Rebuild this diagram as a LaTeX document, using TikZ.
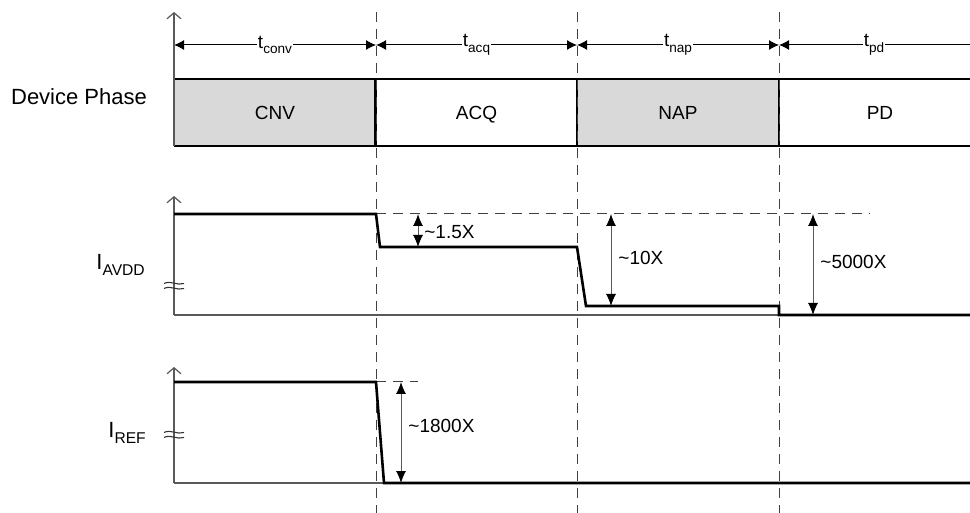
\documentclass[tikz,border=0pt]{standalone}
\usepackage{fontspec}
\setmainfont{Liberation Sans}
\usetikzlibrary{arrows.meta, positioning}

\newcommand{\lowidx}[2][6.8]{\raisebox{-0.55ex}{\fontsize{#1}{8}\selectfont #2}}

\begin{document}
\begin{tikzpicture}[
    x=0.5pt, y=-0.5pt,
    phase/.style={rectangle, minimum width=101pt, minimum height=33.5pt, inner sep=0pt, outer sep=0pt, text height=7pt, text depth=0pt, font=\fontsize{9.5}{11}\selectfont},
    gphase/.style={phase, fill=black!15},
    axis/.style={draw=black!65, line width=0.6pt},
    yaxis/.style={axis, -{Straight Barb[length=3pt, width=7pt]}},
    marker/.style={draw=black!75, line width=0.5pt, dash pattern=on 5pt off 3.5pt},
    span/.style={line width=0.5pt, {Latex[length=5pt, width=5pt]}-{Latex[length=5pt, width=5pt]}},
    ratio/.style={draw=black!65, line width=0.5pt, {Latex[length=6pt, width=5pt, black]}-{Latex[length=6pt, width=5pt, black]}},
    sig/.style={line width=1.3pt},
    tlabel/.style={fill=white, inner sep=0.5pt, font=\fontsize{9.5}{11}\selectfont},
    rlabel/.style={anchor=west, inner sep=0pt, font=\fontsize{9.5}{11}\selectfont},
    ilabel/.style={anchor=west, inner sep=0pt, font=\fontsize{11}{13}\selectfont}
]
    \clip (0,0) rectangle (970,513);

    % Device phases
    \node[gphase] (cnv) at (275,112.5) {CNV};
    \node[phase] (acq) at (476.5,112.5) {ACQ};
    \node[gphase] (nap) at (678,112.5) {NAP};
    \node[phase] (pd) at (880,112.5) {PD};
    \node[font=\fontsize{11}{13}\selectfont] (devphase) at (79,97) {Device Phase};

    \draw[sig] (cnv.north west) -- (pd.north east);
    \draw[sig] (cnv.south west) -- (pd.south east);
    \draw[sig] (acq.north west) -- (acq.south west);
    \draw[sig] (nap.north west) -- (nap.south west);
    \draw[sig] (pd.north west) -- (pd.south west);

    % Phase boundaries
    \foreach \x in {376,577,779}
        \draw[marker] (\x,12) -- (\x,513);

    % Durations
    \coordinate (s0) at (174,45);
    \coordinate (s1) at (376,45);
    \coordinate (s2) at (577,45);
    \coordinate (s3) at (779,45);
    \coordinate (s4) at (990,45);
    \draw[span] (s0) -- node[tlabel] (tconv) {t\lowidx{conv}} (s1);
    \draw[span] (s1) -- node[tlabel] (tacq) {t\lowidx{acq}} (s2);
    \draw[span] (s2) -- node[tlabel] (tnap) {t\lowidx{nap}} (s3);
    \draw[span] (s3) -- node[tlabel, pos=0.45] (tpd) {t\lowidx{pd}} (s4);

    % Axes
    \draw[yaxis] (174,146) -- (174,12);
    \draw[yaxis] (174,315) -- (174,196);
    \draw[axis] (174,315) -- (970,315);
    \draw[yaxis] (174,483) -- (174,367);
    \draw[axis] (174,483) -- (970,483);

    % Axis breaks
    \foreach \y in {285,434} {
        \draw[black!80, line width=0.55pt] (164,\y-1.5) .. controls (171,\y-5) and (177,\y+1) .. (184,\y-1.5);
        \draw[black!80, line width=0.55pt] (164,\y+3.5) .. controls (171,\y) and (177,\y+6) .. (184,\y+3.5);
    }

    \node[ilabel] (iavdd) at (96,265) {I\lowidx[7.8]{AVDD}};
    \node[ilabel] (iref) at (108,433) {I\lowidx[7.8]{REF}};

    % AVDD current
    \draw[marker] (376,214) -- (870,214);
    \draw[sig] (174,214) -- (376,214) -- (380,247) -- (577,247) -- (586,306) -- (779,306) -- (779,315) -- (975,315);
    \coordinate (a1t) at (418,214);
    \coordinate (a1b) at (418,247);
    \coordinate (a2t) at (611,214);
    \coordinate (a2b) at (611,306);
    \coordinate (a3t) at (813,214);
    \coordinate (a3b) at (813,315);
    \draw[ratio] (a1t) -- (a1b);
    \draw[ratio] (a2t) -- (a2b);
    \draw[ratio] (a3t) -- (a3b);
    \node[rlabel] (r15) at (424,232) {\textasciitilde1.5X};
    \node[rlabel] (r10) at (618,258) {\textasciitilde10X};
    \node[rlabel] (r5000) at (820,262) {\textasciitilde5000X};

    % REF current
    \draw[marker] (376,382) -- (418,382);
    \draw[sig] (174,382) -- (376,382) -- (384,483) -- (975,483);
    \coordinate (b1t) at (401,382);
    \coordinate (b1b) at (401,483);
    \draw[ratio] (b1t) -- (b1b);
    \node[rlabel] (r1800) at (408,426) {\textasciitilde1800X};
\end{tikzpicture}
\end{document}
